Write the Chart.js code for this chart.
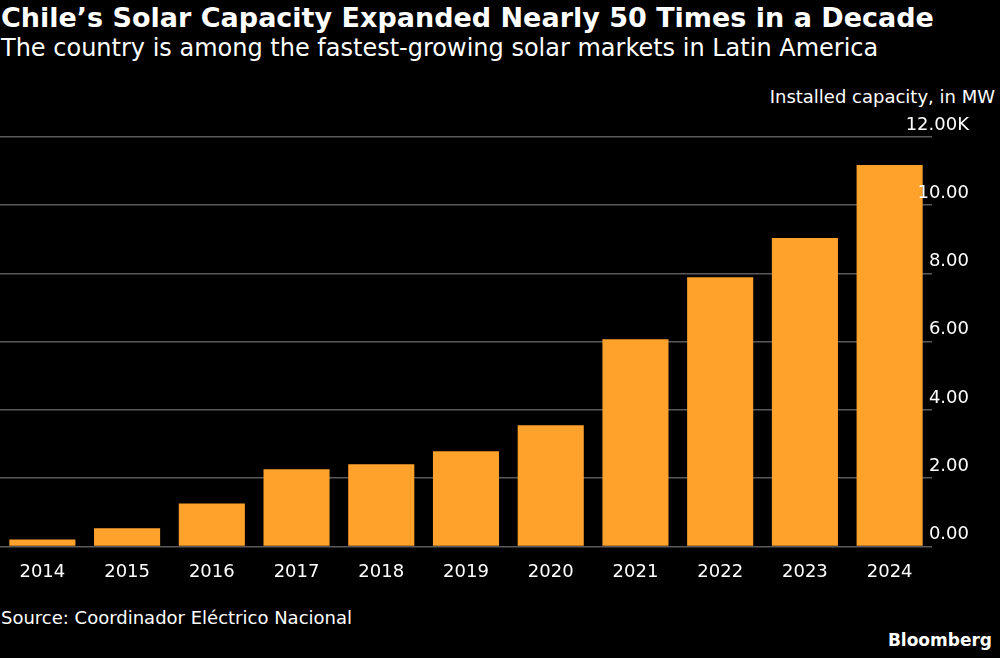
<!DOCTYPE html>
<html><head><meta charset="utf-8">
<script src="https://cdn.jsdelivr.net/npm/chart.js@4"></script>
<style>
body{margin:0;background:#000;width:1000px;height:658px;overflow:hidden;font-family:"DejaVu Sans",sans-serif;color:#fff;position:relative}
#t{position:absolute;left:1px;top:2px;font-size:27px;font-weight:bold;white-space:nowrap}
#s{position:absolute;left:1px;top:34px;font-size:24px;white-space:nowrap}
#u{position:absolute;right:5px;top:86px;font-size:18px}
#src{position:absolute;left:1px;top:607px;font-size:18px}
#b{position:absolute;right:8px;top:630px;font-size:17px;font-weight:bold}
#w{position:absolute;left:0;top:85px;width:1000px;height:505px}
</style></head><body>
<div id="t">Chile’s Solar Capacity Expanded Nearly 50 Times in a Decade</div>
<div id="s">The country is among the fastest-growing solar markets in Latin America</div>
<div id="u">Installed capacity, in MW</div>
<div id="w"><canvas id="c"></canvas></div>
<div id="src">Source: Coordinador Eléctrico Nacional</div>
<div id="b">Bloomberg</div>
<script>
const years=["2014","2015","2016","2017","2018","2019","2020","2021","2022","2023","2024"];
const capacity=[205,530,1260,2260,2410,2790,3550,6070,7890,9040,11180];
const yTicks=[0,2000,4000,6000,8000,10000,12000];
const yLabels=["0.00","2.00","4.00","6.00","8.00","10.00","12.00K"];
const tickPlugin={id:'tk',afterDraw(ch){const y=ch.scales.y,c=ch.ctx;c.save();c.fillStyle='#fff';c.font='18px "DejaVu Sans"';c.textAlign='right';c.textBaseline='bottom';
yTicks.forEach((v,i)=>c.fillText(yLabels[i],969,y.getPixelForValue(v)-3));c.restore();}};
new Chart(document.getElementById('c'),{type:'bar',
data:{labels:years,datasets:[{data:capacity,backgroundColor:'#ffa22c',categoryPercentage:0.78,barPercentage:1}]},
options:{responsive:true,maintainAspectRatio:false,animation:false,
layout:{padding:{top:52,right:68,left:0,bottom:0}},
plugins:{legend:{display:false},tooltip:{enabled:false}},
scales:{x:{grid:{display:false},border:{display:false},ticks:{color:'#fff',font:{size:18,family:'"DejaVu Sans"'},padding:7}},
y:{position:'right',min:0,max:12000,afterFit(s){s.width=0},afterBuildTicks(s){s.ticks=yTicks.map(v=>({value:v}))},ticks:{display:false},border:{display:false},grid:{color:'#5a5a5a',lineWidth:1.5,drawTicks:false}}}},
plugins:[tickPlugin]});
</script></body></html>
